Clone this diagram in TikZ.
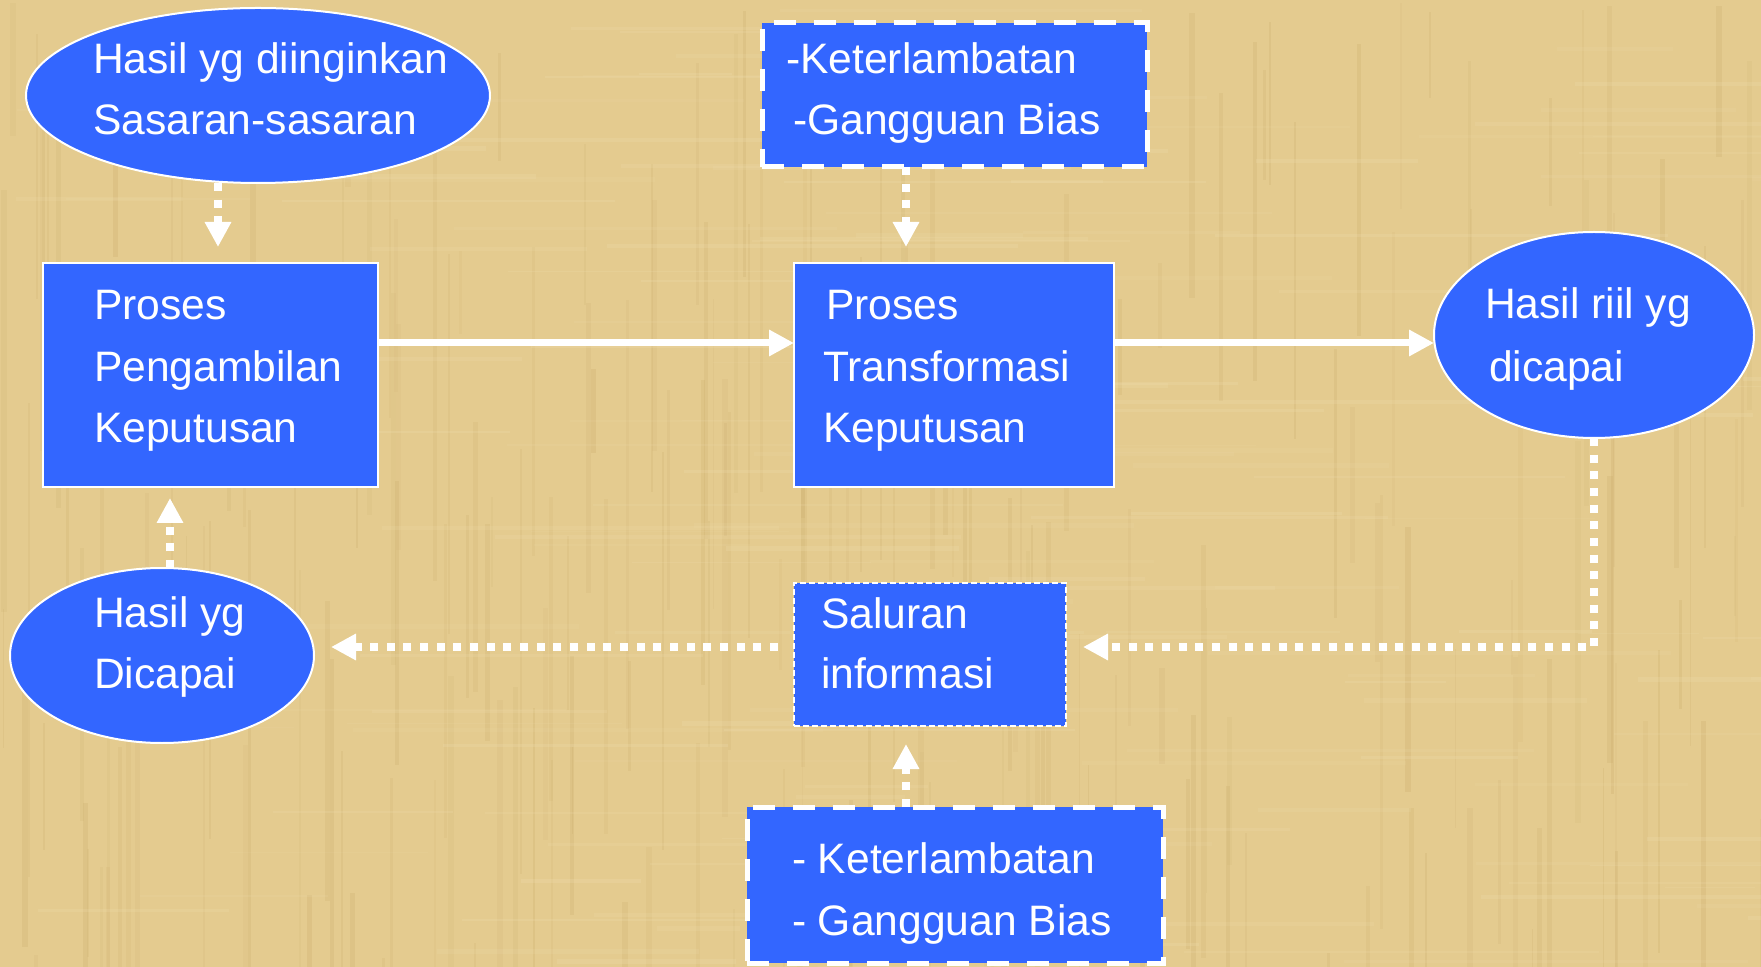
\documentclass[tikz,border=0pt]{standalone}
\usepackage{fontspec}
\setmainfont{Liberation Sans}
\usetikzlibrary{arrows.meta,shapes.geometric}
\definecolor{bg}{RGB}{228,203,143}
\definecolor{bgdark}{RGB}{200,170,105}
\definecolor{bglight}{RGB}{240,222,175}
\definecolor{boxblue}{RGB}{51,102,255}
\tikzset{
 blueell/.style={ellipse, fill=boxblue, draw=white, line width=1pt, inner sep=0pt, outer sep=0pt},
 bluebox/.style={rectangle, fill=boxblue, draw=white, line width=0.8pt, inner sep=0pt, outer sep=0pt},
 bigdash/.style={rectangle, fill=boxblue, draw=white, line width=2.5pt, dash pattern=on 11pt off 9pt, inner sep=0pt, outer sep=0pt},
 smalldash/.style={rectangle, fill=boxblue, draw=white, line width=1pt, dash pattern=on 3pt off 1.5pt, inner sep=0pt, outer sep=0pt},
 txt/.style={anchor=base west, inner sep=0pt, outer sep=0pt, text=white, font=\fontsize{21.3pt}{30.5pt}\selectfont},
 dotarrow/.style={draw=white, line width=4pt, dash pattern=on 4pt off 4.33pt, -{Triangle[width=12.5pt,length=12.5pt]}},
 solidarrow/.style={draw=white, line width=3.5pt, -{Triangle[width=12.5pt,length=12.5pt]}},
}
\begin{document}
\begin{tikzpicture}[x=0.5pt,y=-0.5pt]
\fill[bg] (0,0) rectangle (1761,967);
\useasboundingbox (0,0) rectangle (1761,967);
% faint linen texture of the background
\pgfmathsetseed{11}
\begin{scope}
\clip (0,0) rectangle (1761,967);
\foreach \i in {1,...,220}{
  \pgfmathsetmacro{\xx}{rnd*1761}
  \pgfmathsetmacro{\ww}{1+rnd*5}
  \pgfmathsetmacro{\oo}{0.10+rnd*0.15}
  \pgfmathsetmacro{\yy}{rnd*967}
  \pgfmathsetmacro{\ll}{80+rnd*400}
  \fill[bgdark, opacity=\oo] (\xx,\yy) rectangle ++(\ww,\ll);
}
\foreach \i in {1,...,160}{
  \pgfmathsetmacro{\yy}{rnd*967}
  \pgfmathsetmacro{\hh}{1+rnd*4}
  \pgfmathsetmacro{\oo}{0.10+rnd*0.15}
  \pgfmathsetmacro{\xx}{rnd*1761}
  \pgfmathsetmacro{\ll}{80+rnd*400}
  \fill[bglight, opacity=\oo] (\xx,\yy) rectangle ++(\ll,\hh);
}
\end{scope}

% shapes
\node[blueell, minimum width=232pt, minimum height=87.5pt] (e1) at (258,95.5) {};
\node[bluebox, minimum width=167.5pt, minimum height=112pt] (b1) at (210.5,375) {};
\node[bigdash, minimum width=192.5pt, minimum height=72pt] (t) at (954.5,95) {};
\node[bluebox, minimum width=160pt, minimum height=112pt] (b2) at (954,375) {};
\node[blueell, minimum width=160pt, minimum height=103pt] (e3) at (1594,335) {};
\node[smalldash, minimum width=136pt, minimum height=71.5pt] (s) at (930,654.5) {};
\node[blueell, minimum width=152pt, minimum height=87.5pt] (e2) at (162,655.5) {};
\node[bigdash, minimum width=208pt, minimum height=78pt] (bb) at (955,885) {};

% texts
\node[txt] (e1a) at (93,74) {Hasil yg diinginkan};
\node[txt] (e1b) at (93,135) {Sasaran-sasaran};
\node[txt] (ta) at (786,74) {-Keterlambatan};
\node[txt] (tb) at (793,135) {-Gangguan Bias};
\node[txt] (b1a) at (94,320) {Proses};
\node[txt] (b1b) at (94,382) {Pengambilan};
\node[txt] (b1c) at (94,443) {Keputusan};
\node[txt] (b2a) at (826,320) {Proses};
\node[txt] (b2b) at (823,382) {Transformasi};
\node[txt] (b2c) at (823,443) {Keputusan};
\node[txt] (e3a) at (1485,319) {Hasil riil yg};
\node[txt] (e3b) at (1489,382) {dicapai};
\node[txt] (e2a) at (94,627) {Hasil yg};
\node[txt] (e2b) at (94,688) {Dicapai};
\node[txt] (sa) at (821,628) {Saluran};
\node[txt] (sb) at (821,688) {informasi};
\node[txt] (bba) at (792,873) {- Keterlambatan};
\node[txt] (bbb) at (792,935) {- Gangguan Bias};

% helper coordinates
\coordinate (xa) at (218,0);
\coordinate (xb) at (906,0);
\coordinate (xc) at (170,0);
\coordinate (ya) at (0,343);
\coordinate (yb) at (0,647);

% connectors
\draw[dotarrow, shorten >=8pt] (e1.south -| xa) -- (b1.north -| xa);
\draw[dotarrow, shorten >=8pt] (t.south -| xb) -- (b2.north -| xb);
\draw[solidarrow] (b1.east |- ya) -- (b2.west |- ya);
\draw[solidarrow] (b2.east |- ya) -- (e3.west |- ya);
\draw[dotarrow, shorten >=8.5pt] (e3.south) |- (s.east |- yb);
\draw[dotarrow, shorten <=8pt, shorten >=8.5pt] (s.west |- yb) -- (e2.east |- yb);
\draw[dotarrow, shorten >=5.5pt] (e2.north -| xc) -- (b1.south -| xc);
\draw[dotarrow, shorten >=9pt] (bb.north -| xb) -- (s.south -| xb);
\end{tikzpicture}
\end{document}
